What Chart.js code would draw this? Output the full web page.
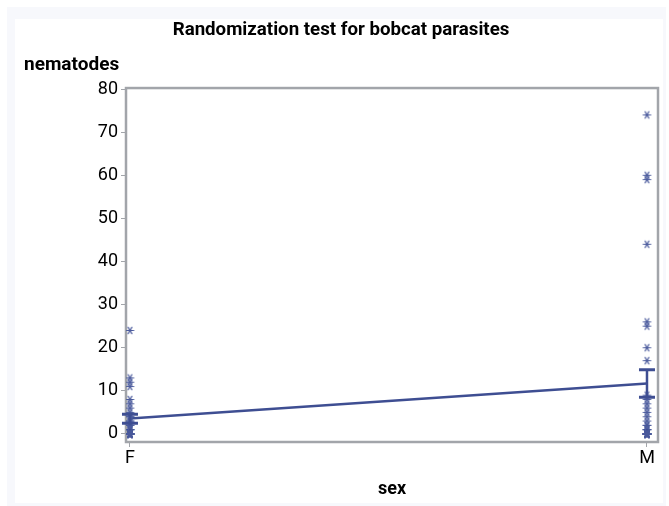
<!DOCTYPE html>
<html><head><meta charset="utf-8">
<script src="https://cdn.jsdelivr.net/npm/chart.js@4/dist/chart.umd.min.js"></script>
<style>
html,body{margin:0;padding:0;background:#fff;}
#outer{position:absolute;left:7px;top:7px;width:659px;height:499px;background:#f7f8fc;}
#inner{position:absolute;left:15px;top:19px;width:648px;height:484px;background:#fff;}
canvas{position:absolute;left:0;top:0;}
</style></head>
<body>
<div id="outer"></div><div id="inner"></div>
<canvas id="c" width="669" height="506"></canvas>
<script>
// ---- data ----
const categories = ["F", "M"];
const femaleValues = [24,13,12,11,8,7,6,5,4,4,3,3,2,2,1,1,1,1,0,0,0,0,0,0,0,0,0,0,0,0];
const maleValues = [74,60,59,44,26,25,20,17,9,8,7,6,5,4,3,2,2,1,1,1,0,0,0,0,0,0,0,0,0,0,0,0];
const groupMeans = [3.6, 11.7];
const lowerBounds = [2.5, 8.5];
const upperBounds = [4.6, 14.9];
const yTickValues = [0,10,20,30,40,50,60,70,80];
const xTickValues = [0, 1];

const BLUE = '#4a5a9c';
const LINE = '#3e4e92';
const GRAY = '#a2a5aa';
const FONT = 'Roboto';
const FS = 18;

// asterisk marker (6 rays)
function makeStar(){
  const c = document.createElement('canvas');
  c.width = 11; c.height = 11;
  const g = c.getContext('2d');
  g.strokeStyle = BLUE; g.lineWidth = 1.1;
  const cx = 5.5, cy = 5.5, r = 4.2;
  g.beginPath();
  for (const a of [0, Math.PI/3, 2*Math.PI/3]) {
    g.moveTo(cx - r*Math.cos(a), cy - r*Math.sin(a));
    g.lineTo(cx + r*Math.cos(a), cy + r*Math.sin(a));
  }
  g.stroke();
  return c;
}
const star = makeStar();

const framePlugin = {
  id: 'frame',
  beforeDatasetsDraw(chart){
    const {ctx, chartArea:a} = chart;
    ctx.save();
    ctx.strokeStyle = GRAY; ctx.lineWidth = 2.5;
    ctx.strokeRect(a.left, a.top, a.right - a.left, a.bottom - a.top);
    ctx.restore();
  },
  afterDatasetsDraw(chart){
    const {ctx, scales:{x, y}} = chart;
    ctx.save();
    ctx.strokeStyle = LINE;
    groupMeans.forEach((m, i) => {
      const px = x.getPixelForValue(xTickValues[i]);
      const lo = y.getPixelForValue(lowerBounds[i]);
      const hi = y.getPixelForValue(upperBounds[i]);
      ctx.lineWidth = 2.5;
      ctx.beginPath();
      ctx.moveTo(px, lo); ctx.lineTo(px, hi);
      ctx.stroke();
      ctx.lineWidth = 3;
      ctx.beginPath();
      ctx.moveTo(px - 8, lo); ctx.lineTo(px + 8, lo);
      ctx.moveTo(px - 8, hi); ctx.lineTo(px + 8, hi);
      ctx.stroke();
    });
    ctx.restore();
  }
};

const pts = (vals, xv) => vals.map(v => ({x: xv, y: v}));

new Chart(document.getElementById('c'), {
  type: 'scatter',
  data: {
    datasets: [
      {data: pts(femaleValues, xTickValues[0]), pointStyle: star, pointRadius: 4, borderColor: BLUE, backgroundColor: BLUE},
      {data: pts(maleValues, xTickValues[1]), pointStyle: star, pointRadius: 4, borderColor: BLUE, backgroundColor: BLUE},
      {type: 'line', data: groupMeans.map((m, i) => ({x: xTickValues[i], y: m})), borderColor: LINE, borderWidth: 2.5, pointRadius: 0, fill: false}
    ]
  },
  options: {
    responsive: false,
    animation: false,
    events: [],
    layout: {padding: {left: 24, right: 11, top: 0, bottom: 0}},
    plugins: {
      legend: {display: false},
      tooltip: {enabled: false},
      title: {display: true, text: 'Randomization test for bobcat parasites', color: '#000',
        font: {family: FONT, size: 18.7, weight: 'bold', lineHeight: 1.2}, padding: {top: 19, bottom: 5}},
      subtitle: {display: true, text: 'nematodes', align: 'start', color: '#000',
        font: {family: FONT, size: 19, weight: 'bold', lineHeight: 1.2}, padding: {top: 7.2, bottom: 11.6}}
    },
    scales: {
      x: {
        type: 'linear', min: -0.0077, max: 1.0213,
        afterBuildTicks: s => { s.ticks = xTickValues.map(v => ({value: v})); },
        afterFit: s => { s.height = 64; },
        ticks: {callback: (v) => categories[xTickValues.indexOf(v)], color: '#000',
          font: {family: FONT, size: FS}, padding: 1, maxRotation: 0, autoSkip: false},
        grid: {drawOnChartArea: false, drawTicks: true, tickLength: 5, color: GRAY, lineWidth: 1},
        border: {display: false},
        title: {display: true, text: 'sex', color: '#000', font: {family: FONT, size: FS, weight: 'bold', lineHeight: 1.2}, padding: {top: 8, bottom: 6}}
      },
      y: {
        type: 'linear', min: -1.86, max: 80.23,
        afterBuildTicks: s => { s.ticks = yTickValues.map(v => ({value: v})); },
        afterFit: s => { s.width = 102; },
        ticks: {color: '#000', font: {family: FONT, size: FS}, padding: 3},
        grid: {drawOnChartArea: false, drawTicks: true, tickLength: 5, color: GRAY, lineWidth: 1},
        border: {display: false}
      }
    }
  },
  plugins: [framePlugin]
});
</script>
</body></html>
